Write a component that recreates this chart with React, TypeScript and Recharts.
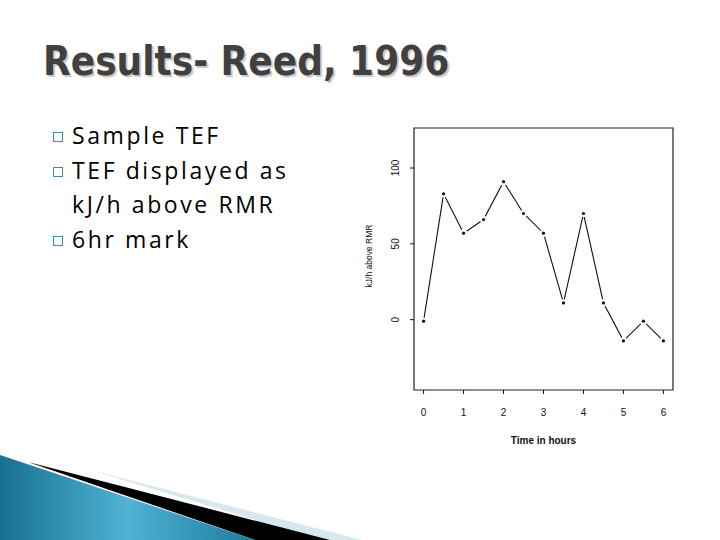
import React from 'react';
import { LineChart, Line, XAxis, YAxis, ReferenceArea } from 'recharts';

// TEF readings every half hour (kJ/h above RMR)
const hours = [0, 0.5, 1, 1.5, 2, 2.5, 3, 3.5, 4, 4.5, 5, 5.5, 6];
const kjAboveRmr = [-1, 83, 57, 66, 91, 70, 57, 11, 70, 11, -14, -1, -14];
const xTicks = [0, 1, 2, 3, 4, 5, 6];
const yTicks = [0, 50, 100];
const xDomain = [-0.24, 6.24];
const yDomain = [-46.4, 126.4];
const bullets = ['Sample TEF', 'TEF displayed as\nkJ/h above RMR', '6hr mark'];

const data = hours.map((h, i) => ({ h, v: kjAboveRmr[i] }));

const plotFont = "'Liberation Sans', Arial, sans-serif";

// R style type="b": small point with a gap where the line meets it
const GapDot = (props: any) => {
  const { cx, cy, index } = props;
  if (cx == null || cy == null) return null;
  return (
    <g key={`d${index}`}>
      <circle cx={cx} cy={cy} r={3.6} fill="#fff" />
      <circle cx={cx} cy={cy} r={1.6} fill="#111" />
    </g>
  );
};

const YTick = (props: any) => {
  const { x, y, payload } = props;
  return (
    <text
      x={x}
      y={y}
      transform={`rotate(-90 ${x} ${y})`}
      textAnchor="middle"
      fontSize={10}
      fontFamily={plotFont}
      fill="#111"
    >
      {payload.value}
    </text>
  );
};

const YTitle = (props: any) => {
  const { viewBox } = props;
  const x = viewBox.x + 12;
  const y = viewBox.y + viewBox.height / 2 - 3;
  return (
    <text
      x={x}
      y={y}
      transform={`rotate(-90 ${x} ${y})`}
      textAnchor="middle"
      fontSize={8.5}
      fontFamily={plotFont}
      fill="#111"
    >
      kJ/h above RMR
    </text>
  );
};

const Swoosh = () => (
  <svg width={720} height={540} style={{ position: 'absolute', left: 0, top: 0 }}>
    <defs>
      <linearGradient id="sw" x1="0" y1="0" x2="1" y2="0">
        <stop offset="0" stopColor="#17708f" />
        <stop offset="0.5" stopColor="#4fb3d3" />
        <stop offset="1" stopColor="#1a7c9e" />
      </linearGradient>
    </defs>
    <polygon points="90,470 362,540 322,540" fill="#d7e7ee" />
    <polygon points="28,462 330,540 255,540" fill="#000" />
    <polygon points="0,455 255,540 0,540" fill="url(#sw)" />
  </svg>
);

export default function App() {
  return (
    <div
      style={{
        position: 'absolute',
        left: 0,
        top: 0,
        width: 720,
        height: 540,
        background: '#fff',
        overflow: 'hidden',
      }}
    >
      <Swoosh />
      <div
        style={{
          position: 'absolute',
          left: 43,
          top: 38,
          fontFamily: "'DejaVu Sans Condensed', sans-serif",
          fontWeight: 'bold',
          fontSize: 40,
          color: '#404040',
          textShadow: '2px 2px 1px #c8c8c8',
          whiteSpace: 'nowrap',
        }}
      >
        Results- Reed, 1996
      </div>
      <div
        style={{
          position: 'absolute',
          left: 52,
          top: 118,
          fontFamily: "'Open Sans', sans-serif",
          fontSize: 23,
          letterSpacing: 2.6,
          lineHeight: '34.5px',
          color: '#000',
          whiteSpace: 'pre-line',
        }}
      >
        {bullets.map((b) => (
          <div key={b} style={{ position: 'relative', paddingLeft: 20 }}>
            <span
              style={{
                position: 'absolute',
                left: 1,
                top: 14,
                width: 10,
                height: 10,
                border: '1px solid #3c8fa3',
                boxSizing: 'border-box',
              }}
            />
            {b}
          </div>
        ))}
      </div>
      <div style={{ position: 'absolute', left: 360, top: 120 }}>
        <LineChart
          width={320}
          height={335}
          data={data}
          margin={{ top: 8, right: 7, bottom: 0, left: 0 }}
        >
          <XAxis
            dataKey="h"
            type="number"
            domain={xDomain}
            ticks={xTicks}
            allowDataOverflow
            height={65}
            axisLine={false}
            tickLine={{ stroke: '#111' }}
            tickSize={4}
            tickMargin={15}
            tick={{ fontSize: 10, fill: '#111', fontFamily: plotFont }}
            label={{
              value: 'Time in hours',
              position: 'insideBottom',
              offset: 11,
              fontSize: 10,
              fontWeight: 'bold',
              fill: '#111',
              fontFamily: plotFont,
            }}
          />
          <YAxis
            type="number"
            domain={yDomain}
            ticks={yTicks}
            allowDataOverflow
            width={54}
            axisLine={false}
            tickLine={{ stroke: '#111' }}
            tickSize={4}
            tickMargin={11}
            tick={<YTick />}
            label={{ content: <YTitle /> }}
          />
          <ReferenceArea
            x1={xDomain[0]}
            x2={xDomain[1]}
            y1={yDomain[0]}
            y2={yDomain[1]}
            fill="none"
            stroke="#222"
            strokeWidth={1.2}
            ifOverflow="visible"
          />
          <Line
            dataKey="v"
            type="linear"
            stroke="#111"
            strokeWidth={1.1}
            dot={GapDot}
            activeDot={false}
            isAnimationActive={false}
          />
        </LineChart>
      </div>
    </div>
  );
}
